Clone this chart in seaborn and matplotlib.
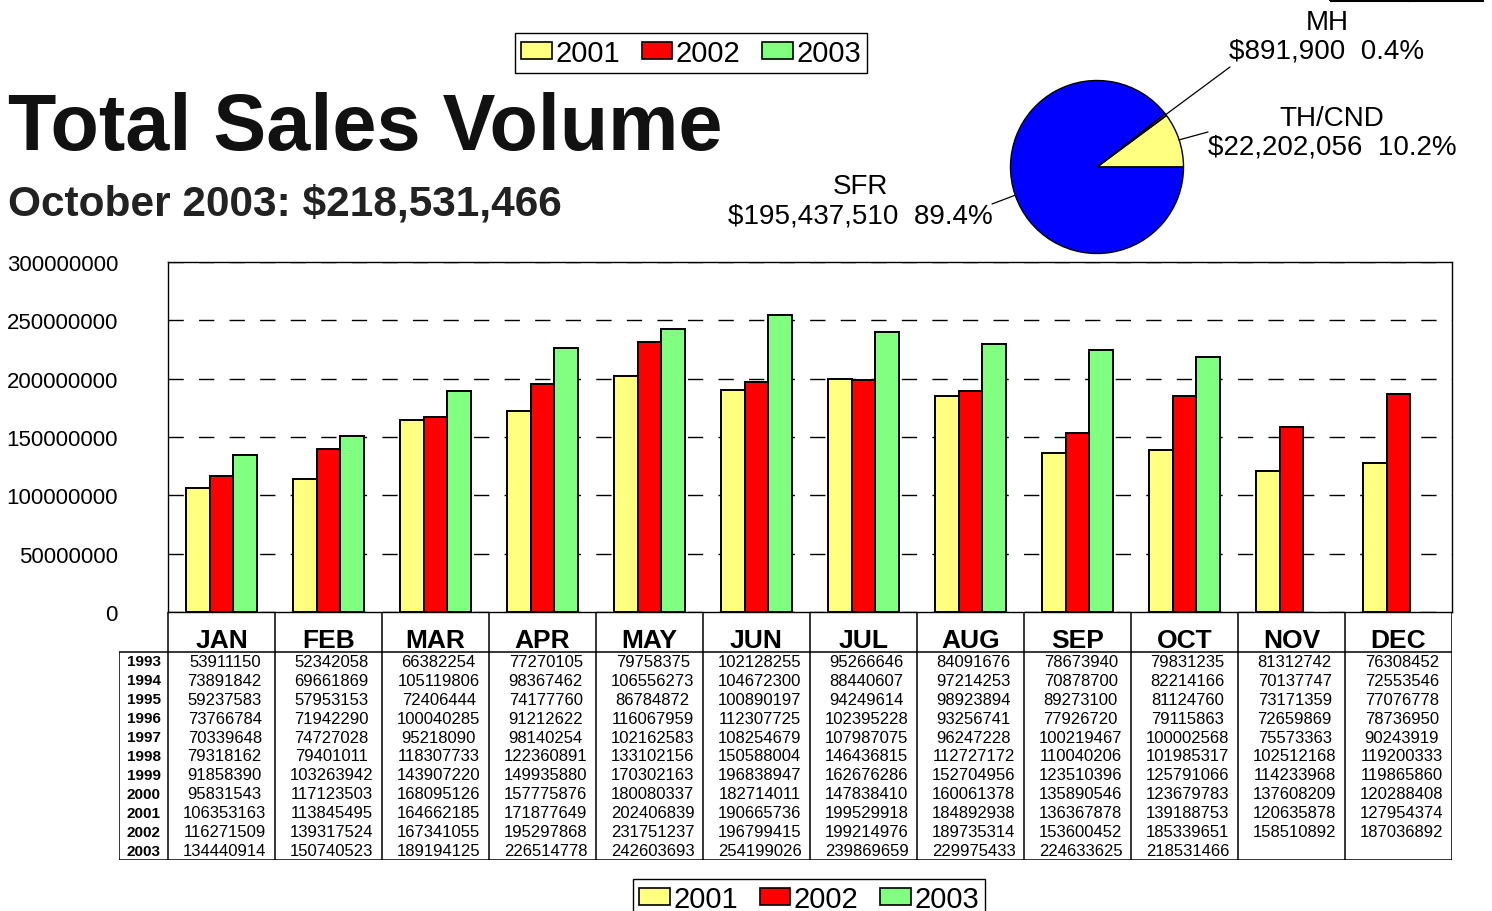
import matplotlib
matplotlib.use("Agg")
import matplotlib.pyplot as plt
from matplotlib.patches import Patch, Rectangle
from matplotlib.lines import Line2D
import numpy as np
import pandas as pd
import seaborn as sns

sns.set_style("white")
plt.rcParams["font.family"] = ["Liberation Sans", "DejaVu Sans"]
plt.rcParams["text.color"] = "black"
plt.rcParams["ytick.color"] = "black"
plt.rcParams["xtick.color"] = "black"

# %%
months = ["JAN", "FEB", "MAR", "APR", "MAY", "JUN",
          "JUL", "AUG", "SEP", "OCT", "NOV", "DEC"]
years = [1993, 1994, 1995, 1996, 1997, 1998, 1999, 2000, 2001, 2002, 2003]

sales_1993 = [53911150, 52342058, 66382254, 77270105, 79758375, 102128255,
              95266646, 84091676, 78673940, 79831235, 81312742, 76308452]
sales_1994 = [73891842, 69661869, 105119806, 98367462, 106556273, 104672300,
              88440607, 97214253, 70878700, 82214166, 70137747, 72553546]
sales_1995 = [59237583, 57953153, 72406444, 74177760, 86784872, 100890197,
              94249614, 98923894, 89273100, 81124760, 73171359, 77076778]
sales_1996 = [73766784, 71942290, 100040285, 91212622, 116067959, 112307725,
              102395228, 93256741, 77926720, 79115863, 72659869, 78736950]
sales_1997 = [70339648, 74727028, 95218090, 98140254, 102162583, 108254679,
              107987075, 96247228, 100219467, 100002568, 75573363, 90243919]
sales_1998 = [79318162, 79401011, 118307733, 122360891, 133102156, 150588004,
              146436815, 112727172, 110040206, 101985317, 102512168, 119200333]
sales_1999 = [91858390, 103263942, 143907220, 149935880, 170302163, 196838947,
              162676286, 152704956, 123510396, 125791066, 114233968, 119865860]
sales_2000 = [95831543, 117123503, 168095126, 157775876, 180080337, 182714011,
              147838410, 160061378, 135890546, 123679783, 137608209, 120288408]
sales_2001 = [106353163, 113845495, 164662185, 171877649, 202406839, 190665736,
              199529918, 184892938, 136367878, 139188753, 120635878, 127954374]
sales_2002 = [116271509, 139317524, 167341055, 195297868, 231751237, 196799415,
              199214976, 189735314, 153600452, 185339651, 158510892, 187036892]
sales_2003 = [134440914, 150740523, 189194125, 226514778, 242603693, 254199026,
              239869659, 229975433, 224633625, 218531466]

pie_labels = ["TH/CND", "MH", "SFR"]
pie_values = [22202056, 891900, 195437510]
pie_colors = ["#FFFF80", "#993366", "#0000FF"]

bar_years = ["2001", "2002", "2003"]
bar_colors = ["#FFFF80", "#FF0000", "#80FF80"]

# %%
table = [sales_1993, sales_1994, sales_1995, sales_1996, sales_1997, sales_1998,
         sales_1999, sales_2000, sales_2001, sales_2002, sales_2003]
rows = []
for yr, vals in zip(bar_years, [sales_2001, sales_2002, sales_2003]):
    for m, v in zip(months, vals):
        rows.append({"Month": m, "Year": yr, "Sales": v})
df = pd.DataFrame(rows)

W, H = 1492, 912
fig = plt.figure(figsize=(W / 100, H / 100), dpi=100)


def box(x0, y0, x1, y1):
    return [x0 / W, 1 - y1 / H, (x1 - x0) / W, (y1 - y0) / H]


# bar chart
ax = fig.add_axes(box(168, 263, 1452, 613))
sns.barplot(df, x="Month", y="Sales", hue="Year", order=months,
            hue_order=bar_years, palette=bar_colors, edgecolor="black",
            linewidth=1.4, width=0.664, gap=0, errorbar=None, legend=False,
            saturation=1, ax=ax)
ax.set_xlim(-0.5, 11.5)
ax.set_ylim(0, 300000000)
ticks = list(range(0, 300000001, 50000000))
ax.set_yticks(ticks)
ax.set_yticklabels([str(t) for t in ticks], fontsize=16)
ax.tick_params(axis="y", length=0, pad=36)
ax.set_xticks([])
ax.set_xlabel("")
ax.set_ylabel("")
ax.set_axisbelow(True)
ax.yaxis.grid(True, color="black", linestyle=(0, (11, 11)), linewidth=1)
for s in ax.spines.values():
    s.set_color("black")
    s.set_linewidth(1)

# data table under the bars
tab = fig.add_axes(box(119, 613, 1452, 861))
lab_w = (168 - 119) / 107
tab.set_xlim(-0.5 - lab_w, 11.5)
tab.set_ylim(248, 0)
tab.axis("off")
head = 40
row_h = (248 - head) / len(years)
lc = dict(color="black", linewidth=1.1, solid_capstyle="butt")
for i in range(13):
    tab.plot([i - 0.5, i - 0.5], [0, 248], **lc)
tab.plot([-0.5 - lab_w, -0.5 - lab_w], [head, 248], **lc)
tab.plot([-0.5 - lab_w, 11.5], [head, head], **lc)
tab.plot([-0.5 - lab_w, 11.5], [248, 248], **lc)
for i, m in enumerate(months):
    tab.text(i, 28, m, ha="center", va="center", fontsize=19, weight="bold")
for r, (yr, vals) in enumerate(zip(years, table)):
    yc = head + (r + 0.5) * row_h
    tab.text(-0.5 - lab_w / 2, yc, str(yr), ha="center", va="center",
             fontsize=11, weight="bold")
    for i, v in enumerate(vals):
        tab.text(i + 0.03, yc, str(v), ha="center", va="center", fontsize=12)

# legends
handles = [Patch(facecolor=c, edgecolor="black", linewidth=1.2, label=y)
           for c, y in zip(bar_colors, bar_years)]
leg_kw = dict(ncol=3, fontsize=21, frameon=True, fancybox=False,
              edgecolor="black", framealpha=1, handlelength=1.05,
              handleheight=0.5, handletextpad=0.12, columnspacing=0.75,
              borderpad=0.2, borderaxespad=0)
leg1 = fig.legend(handles=handles, loc="center",
                  bbox_to_anchor=(691 / W, 1 - 54 / H), **leg_kw)
leg1.get_frame().set_linewidth(1)
leg2 = fig.legend(handles=handles, loc="center",
                  bbox_to_anchor=(809 / W, 1 - 900 / H), **leg_kw)
leg2.get_frame().set_linewidth(1)

# titles
fig.text(8 / W, 1 - 150 / H, "Total Sales Volume", fontsize=57,
         weight="bold", va="baseline", color="#111111")
fig.text(8 / W, 1 - 216 / H, "October 2003: $218,531,466", fontsize=30.5,
         weight="bold", va="baseline", color="#222222")

# pie
r_px = 86.5
pax = fig.add_axes(box(1097 - r_px, 168 - r_px, 1097 + r_px, 168 + r_px))
wedges, _ = pax.pie(pie_values, colors=pie_colors, startangle=0,
                    counterclock=True,
                    wedgeprops=dict(edgecolor="black", linewidth=1))
pax.set_xlim(-1, 1)
pax.set_ylim(-1, 1)
pax.set_aspect("equal")
total = sum(pie_values)
label_pos = {"TH/CND": (1332, 133), "MH": (1327, 37), "SFR": (860, 202)}
line_end = {"TH/CND": (1208, 133), "MH": (1230, 68), "SFR": (992, 205)}
for w, name, v in zip(wedges, pie_labels, pie_values):
    ang = np.deg2rad((w.theta1 + w.theta2) / 2)
    ex, ey = line_end[name]
    pax.plot([np.cos(ang), (ex - 1097) / r_px], [np.sin(ang), (168 - ey) / r_px],
             color="black", linewidth=0.9, clip_on=False)
    lx, ly = label_pos[name]
    fig.text(lx / W, 1 - ly / H, f"{name}\n${v:,}  {v / total * 100:.1f}%",
             ha="center", va="center", fontsize=20, linespacing=1.15)

# partial box at the top right edge
fig.add_artist(Rectangle((1330 / W, 1 - 2 / H), 153 / W, 10 / H,
                         transform=fig.transFigure, fill=False,
                         edgecolor="black", linewidth=1.5))
fig.add_artist(Line2D([1408 / W, 1408 / W], [1 - 2 / H, 1],
                      transform=fig.transFigure, color="black", linewidth=1))

fig.savefig("out.png", dpi=100, facecolor="white")
